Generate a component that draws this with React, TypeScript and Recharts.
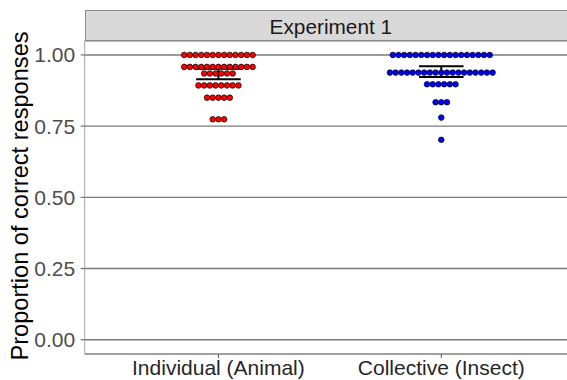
import React from "react";
import { ScatterChart, Scatter, XAxis, YAxis, CartesianGrid } from "recharts";

// categories on the x axis
const categories = ["Individual (Animal)", "Collective (Insect)"];

// dotplot rows: proportion value of each stack and number of dots in it
const individualRows = [1.0, 0.958, 0.935, 0.893, 0.85, 0.774];
const individualCounts = [13, 13, 6, 8, 5, 3];
const collectiveRows = [1.0, 0.938, 0.897, 0.834, 0.78, 0.702];
const collectiveCounts = [18, 19, 6, 3, 1, 1];

const yTicks = [0, 0.25, 0.5, 0.75, 1];

const FONT = "'Liberation Sans', Arial, sans-serif";
const DOT_STEP = 0.0256; // horizontal spacing of stacked dots, in category units
const CAP = 0.1; // half width of the error bar caps, in category units
const T_975 = 2.0117; // qt(0.975, 47)

const dotsFor = (pos: number, rows: number[], counts: number[]) => {
  const pts: { x: number; y: number }[] = [];
  rows.forEach((v, r) => {
    const n = counts[r];
    for (let i = 0; i < n; i++) {
      pts.push({ x: pos + (i - (n - 1) / 2) * DOT_STEP, y: v });
    }
  });
  return pts;
};

// mean +/- 95% CI, traced as one polyline: top cap, stem, bottom cap
const errorBarFor = (pos: number, rows: number[], counts: number[]) => {
  const vals = rows.flatMap((v, i) => Array(counts[i]).fill(v) as number[]);
  const n = vals.length;
  const mean = vals.reduce((a, b) => a + b, 0) / n;
  const sd = Math.sqrt(vals.reduce((a, b) => a + (b - mean) ** 2, 0) / (n - 1));
  const ci = (T_975 * sd) / Math.sqrt(n);
  const hi = mean + ci;
  const lo = mean - ci;
  return [
    { x: pos - CAP, y: hi },
    { x: pos + CAP, y: hi },
    { x: pos, y: hi },
    { x: pos, y: lo },
    { x: pos - CAP, y: lo },
    { x: pos + CAP, y: lo },
  ];
};

const individualDots = dotsFor(1, individualRows, individualCounts);
const collectiveDots = dotsFor(2, collectiveRows, collectiveCounts);
const individualBar = errorBarFor(1, individualRows, individualCounts);
const collectiveBar = errorBarFor(2, collectiveRows, collectiveCounts);

const dotShape = (fill: string) => (props: any) =>
  (
    <circle
      cx={props.cx}
      cy={props.cy}
      r={2.8}
      fill={fill}
      stroke="#000"
      strokeWidth={0.7}
    />
  );

const noShape = () => <g />;

export default function App() {
  return (
    <div
      style={{
        position: "absolute",
        left: 0,
        top: 0,
        width: 567,
        height: 380,
        overflow: "hidden",
        background: "#fff",
        fontFamily: FONT,
      }}
    >
      <ScatterChart
        width={575}
        height={380}
        margin={{ top: 40.7, right: 0, bottom: 0, left: 0 }}
      >
        <CartesianGrid vertical={false} stroke="#7a7a7a" strokeWidth={1.4} />
        <XAxis
          type="number"
          dataKey="x"
          domain={[0.4, 2.6]}
          ticks={[1, 2]}
          tickFormatter={(v: number) => categories[v - 1]}
          allowDataOverflow
          height={26}
          tickSize={4}
          tickMargin={2.2}
          axisLine={{ stroke: "#a6a6a6", strokeWidth: 1 }}
          tickLine={{ stroke: "#555" }}
          tick={{ fill: "#262626", fontSize: 21, fontFamily: FONT }}
        />
        <YAxis
          type="number"
          dataKey="y"
          domain={[-0.05, 1.05]}
          ticks={yTicks}
          tickFormatter={(v: number) => v.toFixed(2)}
          allowDataOverflow
          width={84.7}
          tickSize={4}
          tickMargin={5.5}
          axisLine={{ stroke: "#a6a6a6", strokeWidth: 1 }}
          tickLine={{ stroke: "#555" }}
          tick={{ fill: "#4d4d4d", fontSize: 21, fontFamily: FONT }}
          label={{
            content: () => (
              <text
                x={28}
                y={196}
                transform="rotate(-90 28 196)"
                textAnchor="middle"
                fontSize={23.6}
                fontFamily={FONT}
                fill="#000"
              >
                Proportion of correct responses
              </text>
            ),
          }}
        />
        <Scatter
          data={individualBar}
          shape={noShape}
          line={{ stroke: "#000", strokeWidth: 2 }}
          isAnimationActive={false}
        />
        <Scatter
          data={collectiveBar}
          shape={noShape}
          line={{ stroke: "#000", strokeWidth: 2 }}
          isAnimationActive={false}
        />
        <Scatter
          data={individualDots}
          shape={dotShape("#ff0000")}
          isAnimationActive={false}
        />
        <Scatter
          data={collectiveDots}
          shape={dotShape("#0000ff")}
          isAnimationActive={false}
        />
      </ScatterChart>
      <div
        style={{
          position: "absolute",
          left: 84.7,
          top: 10,
          width: 500,
          height: 30.7,
          boxSizing: "border-box",
          background: "#d9d9d9",
          borderTop: "1px solid #8c8c8c",
          borderBottom: "1px solid #8c8c8c",
          borderLeft: "1px solid #8c8c8c",
          color: "#1a1a1a",
          fontSize: 20.8,
          lineHeight: "30px",
        }}
      >
        <div
          style={{
            position: "absolute",
            left: 0,
            width: 575 - 84.7,
            top: 0,
            textAlign: "center",
            paddingTop: 0.5,
          }}
        >
          Experiment 1
        </div>
      </div>
    </div>
  );
}
